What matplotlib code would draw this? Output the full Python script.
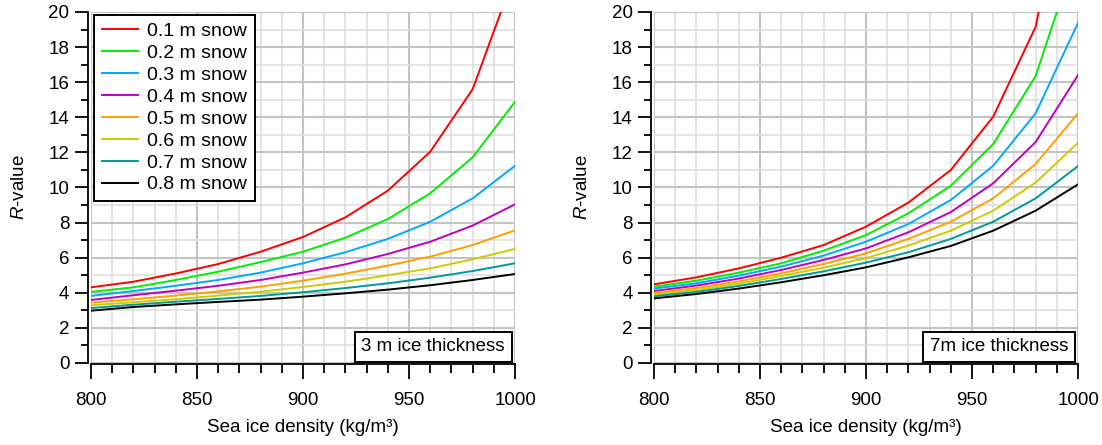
import matplotlib
matplotlib.use("Agg")
import matplotlib.pyplot as plt
from matplotlib.ticker import MultipleLocator

plt.rcParams['font.family'] = ['Liberation Sans', 'DejaVu Sans']
plt.rcParams['mathtext.fontset'] = 'custom'
plt.rcParams['mathtext.it'] = 'Liberation Sans:italic'
plt.rcParams['mathtext.rm'] = 'Liberation Sans'

# Données
densite = [800, 820, 840, 860, 880, 900, 920, 940, 960, 980, 1000]
neige = ["0.1 m snow", "0.2 m snow", "0.3 m snow", "0.4 m snow",
         "0.5 m snow", "0.6 m snow", "0.7 m snow", "0.8 m snow"]
couleurs = ["#ff0000", "#00ee00", "#00aaff", "#c000c0",
            "#ffa000", "#cccc00", "#009a9a", "#000000"]

# glace de 3 m
r_3m_01 = [4.31, 4.63, 5.10, 5.64, 6.34, 7.18, 8.30, 9.82, 12.04, 15.60, 22.2]
r_3m_02 = [4.05, 4.31, 4.73, 5.20, 5.75, 6.34, 7.14, 8.20, 9.67, 11.72, 14.89]
r_3m_03 = [3.82, 4.10, 4.40, 4.73, 5.15, 5.68, 6.31, 7.07, 8.05, 9.38, 11.24]
r_3m_04 = [3.59, 3.86, 4.12, 4.40, 4.73, 5.15, 5.62, 6.21, 6.91, 7.83, 9.04]
r_3m_05 = [3.44, 3.63, 3.84, 4.08, 4.35, 4.69, 5.09, 5.55, 6.06, 6.72, 7.56]
r_3m_06 = [3.29, 3.46, 3.63, 3.84, 4.06, 4.33, 4.63, 5.00, 5.39, 5.91, 6.50]
r_3m_07 = [3.13, 3.32, 3.49, 3.65, 3.82, 4.03, 4.27, 4.54, 4.86, 5.24, 5.68]
r_3m_08 = [2.98, 3.19, 3.34, 3.48, 3.61, 3.78, 3.97, 4.18, 4.43, 4.73, 5.07]

# glace de 7 m
r_7m_01 = [4.48, 4.88, 5.39, 6.00, 6.72, 7.77, 9.14, 11.00, 14.04, 19.16, 31.0]
r_7m_02 = [4.35, 4.69, 5.15, 5.68, 6.40, 7.29, 8.53, 10.10, 12.48, 16.35, 23.65]
r_7m_03 = [4.24, 4.54, 4.98, 5.49, 6.12, 6.91, 7.92, 9.29, 11.24, 14.23, 19.39]
r_7m_04 = [4.10, 4.41, 4.81, 5.30, 5.87, 6.53, 7.45, 8.60, 10.24, 12.59, 16.41]
r_7m_05 = [3.99, 4.27, 4.65, 5.11, 5.64, 6.25, 7.07, 8.05, 9.38, 11.34, 14.23]
r_7m_06 = [3.89, 4.16, 4.52, 4.96, 5.43, 5.98, 6.69, 7.54, 8.68, 10.28, 12.55]
r_7m_07 = [3.80, 4.05, 4.39, 4.79, 5.22, 5.72, 6.31, 7.07, 8.05, 9.38, 11.22]
r_7m_08 = [3.68, 3.93, 4.24, 4.60, 5.00, 5.45, 6.02, 6.67, 7.54, 8.68, 10.18]

series_3m = [r_3m_01, r_3m_02, r_3m_03, r_3m_04, r_3m_05, r_3m_06, r_3m_07, r_3m_08]
series_7m = [r_7m_01, r_7m_02, r_7m_03, r_7m_04, r_7m_05, r_7m_06, r_7m_07, r_7m_08]


def tracer_panneau(ax, series, etiquette, legende=False):
    ax.grid(True, which='minor', color='#dcdcdc', linewidth=1.1, zorder=0)
    ax.grid(True, which='major', color='#c4c4c4', linewidth=1.5, zorder=0)
    for valeurs, couleur, nom in zip(series, couleurs, neige):
        ax.plot(densite, valeurs, color=couleur, linewidth=1.4, label=nom,
                clip_on=True, zorder=3)
    ax.set_xlim(800, 1000)
    ax.set_ylim(0, 20)
    ax.xaxis.set_major_locator(MultipleLocator(50))
    ax.xaxis.set_minor_locator(MultipleLocator(10))
    ax.yaxis.set_major_locator(MultipleLocator(2))
    ax.yaxis.set_minor_locator(MultipleLocator(1))
    for cote in ['top', 'right']:
        ax.spines[cote].set_visible(False)
    ax.spines['left'].set_position(('outward', 2))
    ax.spines['bottom'].set_position(('outward', 1))
    for cote in ['left', 'bottom']:
        ax.spines[cote].set_linewidth(1.3)
    ax.tick_params(axis='x', which='major', direction='out', length=11,
                   width=1.3, labelsize=13.5, pad=9)
    ax.tick_params(axis='x', which='minor', direction='out', length=6.5,
                   width=1.3)
    ax.tick_params(axis='y', which='major', direction='out', length=9.5,
                   width=1.3, labelsize=13.5, pad=4)
    ax.tick_params(axis='y', which='minor', direction='out', length=5,
                   width=1.3)
    ax.set_xlabel("Sea ice density (kg/m³)", fontsize=13.5, labelpad=7)
    ax.set_ylabel("$R$-value", fontsize=13.5, labelpad=15)
    ax.text(0.976, 0.022, etiquette, transform=ax.transAxes, fontsize=13.5,
            ha='right', va='bottom', zorder=5,
            bbox=dict(boxstyle='square,pad=0.36', facecolor='white',
                      edgecolor='black', linewidth=1.4))
    if legende:
        leg = ax.legend(loc='upper left', fontsize=14, fancybox=False,
                        framealpha=1, edgecolor='black', borderaxespad=0.15,
                        handlelength=1.85, labelspacing=0.22,
                        borderpad=0.4, handletextpad=0.5)
        leg.get_frame().set_linewidth(1.4)
        leg.set_zorder(5)


fig = plt.figure(figsize=(11.02, 4.45), dpi=100)
ax1 = fig.add_axes([0.0826, 0.1843, 0.3848, 0.7888])
ax2 = fig.add_axes([0.5935, 0.1843, 0.3848, 0.7888])

tracer_panneau(ax1, series_3m, "3 m ice thickness", legende=True)
tracer_panneau(ax2, series_7m, "7m ice thickness")

fig.savefig("out.png", dpi=100)
